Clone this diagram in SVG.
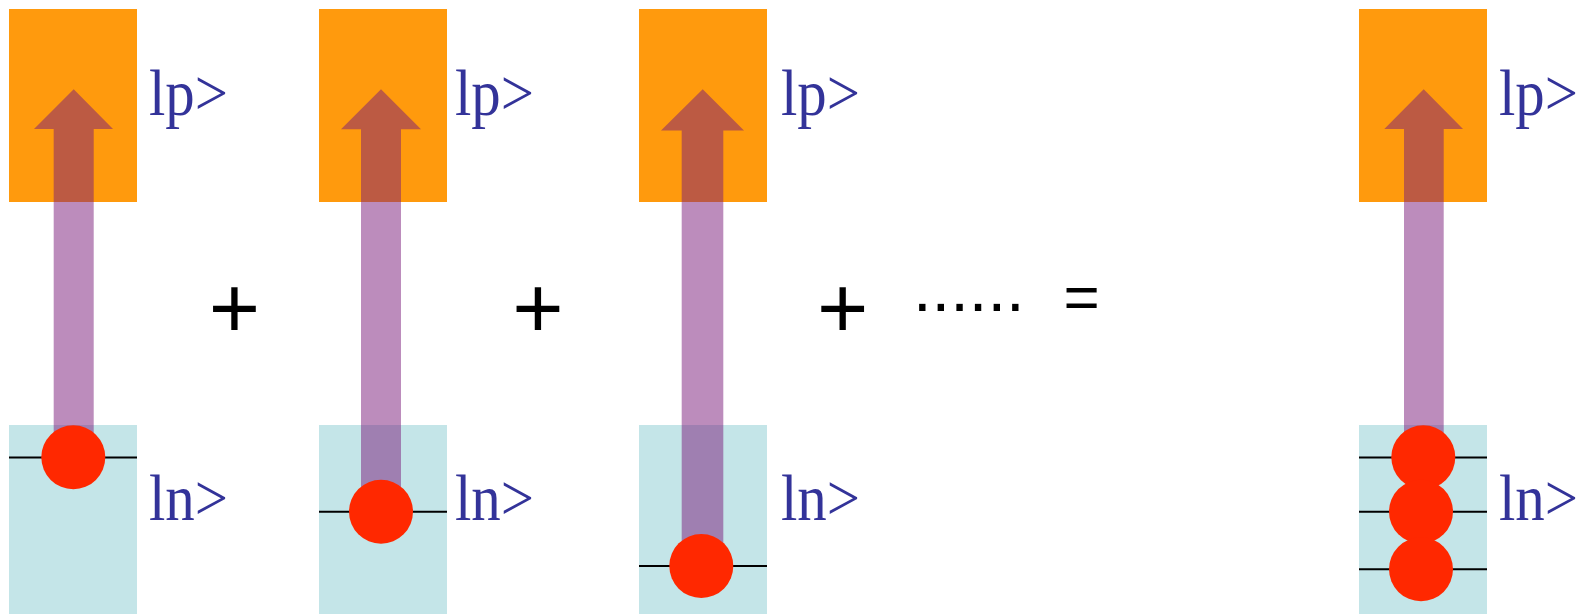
<svg xmlns="http://www.w3.org/2000/svg" width="1585" height="614" viewBox="0 0 1585 614">
<style>
.top{fill:#FF9A0D}
.bot{fill:#C4E5E8}
.arr{fill:#7A1A7A;fill-opacity:0.5}
.lvl{stroke:#000;stroke-width:2}
.dot{fill:#FF2800}
.ket{font-family:"Liberation Serif",serif;font-size:66px;fill:#333399}
.op{font-family:"Liberation Sans",sans-serif;fill:#000}
</style>
<rect width="1585" height="614" fill="#fff"/>
<g id="term1">
<rect class="top" x="9" y="9" width="128" height="193"/>
<rect class="bot" x="9" y="425" width="128" height="189"/>
<line class="lvl" x1="9" y1="457.5" x2="137" y2="457.5"/>
<polygon class="arr" points="73.7,89.3 113,129 93.7,129 93.7,457 53.7,457 53.7,129 34,129"/>
<circle class="dot" cx="73.3" cy="457.3" r="32"/>
<text class="ket" x="149" y="115" textLength="79" lengthAdjust="spacingAndGlyphs">lp&gt;</text>
<text class="ket" x="149" y="520" textLength="79" lengthAdjust="spacingAndGlyphs">ln&gt;</text>
</g>
<g id="term2">
<rect class="top" x="319" y="9" width="128" height="193"/>
<rect class="bot" x="319" y="425" width="128" height="189"/>
<line class="lvl" x1="319" y1="511.7" x2="447" y2="511.7"/>
<polygon class="arr" points="381,89.3 421,129.3 401,129.3 401,511 361,511 361,129.3 341,129.3"/>
<circle class="dot" cx="381" cy="511.7" r="32"/>
<text class="ket" x="455" y="115" textLength="79" lengthAdjust="spacingAndGlyphs">lp&gt;</text>
<text class="ket" x="455" y="520" textLength="79" lengthAdjust="spacingAndGlyphs">ln&gt;</text>
</g>
<g id="term3">
<rect class="top" x="639" y="9" width="128" height="193"/>
<rect class="bot" x="639" y="425" width="128" height="189"/>
<line class="lvl" x1="639" y1="566" x2="767" y2="566"/>
<polygon class="arr" points="702.7,89.3 744,130.5 723.3,130.5 723.3,566 681.7,566 681.7,130.5 661,130.5"/>
<circle class="dot" cx="701.3" cy="566" r="32"/>
<text class="ket" x="781" y="115" textLength="79" lengthAdjust="spacingAndGlyphs">lp&gt;</text>
<text class="ket" x="781" y="520" textLength="79" lengthAdjust="spacingAndGlyphs">ln&gt;</text>
</g>
<g id="result">
<rect class="top" x="1359" y="9" width="128" height="193"/>
<rect class="bot" x="1359" y="425" width="128" height="189"/>
<line class="lvl" x1="1359" y1="457.5" x2="1487" y2="457.5"/>
<line class="lvl" x1="1359" y1="511.7" x2="1487" y2="511.7"/>
<line class="lvl" x1="1359" y1="569.3" x2="1487" y2="569.3"/>
<polygon class="arr" points="1423.7,89.3 1463,129 1443.7,129 1443.7,457 1404,457 1404,129 1384.3,129"/>
<circle class="dot" cx="1423.3" cy="457.3" r="32"/>
<circle class="dot" cx="1421" cy="511.7" r="32"/>
<circle class="dot" cx="1421" cy="569.3" r="32"/>
<text class="ket" x="1499" y="115" textLength="79" lengthAdjust="spacingAndGlyphs">lp&gt;</text>
<text class="ket" x="1499" y="520" textLength="79" lengthAdjust="spacingAndGlyphs">ln&gt;</text>
</g>
<g id="operators">
<text class="op" x="234.5" y="338" font-size="88" text-anchor="middle">+</text>
<text class="op" x="538" y="338" font-size="88" text-anchor="middle">+</text>
<text class="op" x="842.7" y="338" font-size="88" text-anchor="middle">+</text>
<text class="op" x="913" y="311" font-size="67">......</text>
<text class="op" x="1081.5" y="318" font-size="62" text-anchor="middle">=</text>
</g>
</svg>
